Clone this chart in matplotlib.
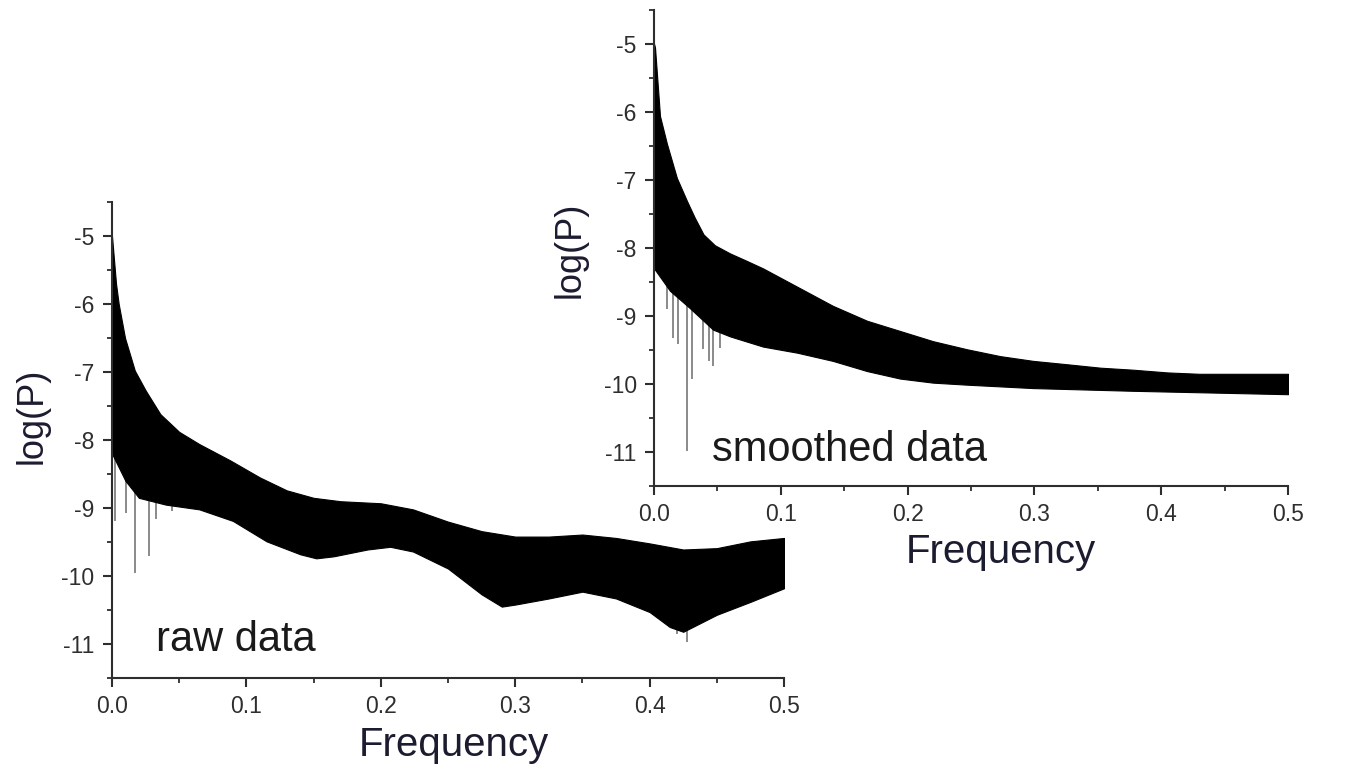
import matplotlib.pyplot as plt
from matplotlib.ticker import MultipleLocator
import numpy as np

plt.rcParams["font.family"] = ["Liberation Sans", "DejaVu Sans"]
plt.rcParams["axes.unicode_minus"] = False

# raw data: envelope of the dense spectrum (frequency, log(P))
raw_f_up = [0.0, 0.003, 0.005, 0.0097, 0.017, 0.025, 0.036, 0.05, 0.065, 0.088, 0.11, 0.13,
            0.15, 0.17, 0.19, 0.2, 0.224, 0.25, 0.275, 0.3, 0.325, 0.35, 0.375, 0.4, 0.425,
            0.45, 0.475, 0.5]
raw_up = [-5.0, -5.7, -6.0, -6.5, -6.98, -7.27, -7.62, -7.88, -8.06, -8.3, -8.55, -8.74,
          -8.85, -8.9, -8.92, -8.93, -9.02, -9.2, -9.34, -9.42, -9.42, -9.39, -9.44, -9.52, -9.61,
          -9.59, -9.49, -9.44]
raw_f_lo = [0.0, 0.01, 0.02, 0.04, 0.065, 0.09, 0.115, 0.14, 0.152, 0.165, 0.19, 0.207,
            0.224, 0.25, 0.275, 0.29, 0.3, 0.325, 0.35, 0.375, 0.4, 0.415, 0.425, 0.45, 0.475, 0.5]
raw_lo = [-8.2, -8.6, -8.85, -8.95, -9.02, -9.19, -9.49, -9.68, -9.74, -9.71, -9.61, -9.57,
          -9.64, -9.89, -10.27, -10.45, -10.42, -10.33, -10.23, -10.33, -10.53, -10.75, -10.82,
          -10.57, -10.38, -10.18]
raw_spike_f = [0.0022, 0.0104, 0.0171, 0.0275, 0.033, 0.0445, 0.42, 0.428]
raw_spike_lo = [-9.19, -9.08, -9.96, -9.71, -9.16, -9.05, -10.85, -10.97]
raw_spike_hi = [-7.0, -7.5, -7.5, -8.0, -8.0, -8.5, -10.3, -10.3]

# smoothed data
sm_f_up = [0.0, 0.0008, 0.0047, 0.0102, 0.018, 0.026, 0.032, 0.039, 0.048, 0.06, 0.072, 0.086,
           0.113, 0.141, 0.168, 0.194, 0.22, 0.247, 0.273, 0.299, 0.326, 0.352, 0.378, 0.405,
           0.43, 0.5]
sm_up = [-5.0, -5.06, -6.06, -6.47, -6.97, -7.31, -7.55, -7.8, -7.96, -8.08, -8.18, -8.3,
         -8.57, -8.85, -9.07, -9.22, -9.37, -9.49, -9.59, -9.66, -9.71, -9.76, -9.79, -9.83,
         -9.85, -9.85]
sm_f_lo = [0.0, 0.0126, 0.028, 0.0465, 0.06, 0.086, 0.113, 0.141, 0.168, 0.194, 0.22, 0.247,
           0.299, 0.378, 0.5]
sm_lo = [-8.3, -8.63, -8.88, -9.2, -9.3, -9.45, -9.54, -9.66, -9.81, -9.92, -9.98, -10.01,
         -10.06, -10.1, -10.15]
sm_spike_f = [0.004, 0.0104, 0.015, 0.019, 0.026, 0.03, 0.039, 0.0434, 0.0465, 0.052]
sm_spike_lo = [-8.34, -8.9, -9.32, -9.41, -10.99, -9.93, -9.49, -9.66, -9.74, -9.47]
sm_spike_hi = [-7.0, -7.5, -8.0, -8.0, -8.3, -8.5, -8.8, -8.8, -9.0, -9.0]

xticks = [0.0, 0.1, 0.2, 0.3, 0.4, 0.5]
yticks = [-5, -6, -7, -8, -9, -10, -11]

fig = plt.figure(figsize=(13.64, 7.69), dpi=100)
ax1 = fig.add_axes([0.0821, 0.1183, 0.4927, 0.619])
ax2 = fig.add_axes([0.4795, 0.368, 0.4648, 0.619])

label_col = '#1c1c30'
tick_col = '#2e2e2e'


def draw(ax, f_up, up, f_lo, lo, sf, slo, shi):
    ax.vlines(sf, slo, shi, color='#8a8a8a', lw=1.4, zorder=1)
    f_all = np.union1d(f_up, f_lo)
    ax.fill_between(f_all, np.interp(f_all, f_lo, lo), np.interp(f_all, f_up, up),
                    color='black', lw=0.8, zorder=2)
    ax.set_xlim(0, 0.5)
    ax.set_ylim(-11.5, -4.5)
    ax.set_facecolor('none')
    for s in ['top', 'right']:
        ax.spines[s].set_visible(False)
    for s in ['left', 'bottom']:
        ax.spines[s].set_linewidth(1.5)
        ax.spines[s].set_color(tick_col)
    ax.set_xticks(xticks)
    ax.set_xticklabels(['%.1f' % t for t in xticks])
    ax.set_yticks(yticks)
    ax.set_yticklabels([str(t) for t in yticks])
    ax.xaxis.set_minor_locator(MultipleLocator(0.05))
    ax.yaxis.set_minor_locator(MultipleLocator(0.5))
    ax.tick_params(which='major', direction='out', length=6.5, width=1.5, color=tick_col,
                   labelsize=16.5, labelcolor=tick_col, pad=6)
    ax.tick_params(which='minor', direction='out', length=3.5, width=1.3, color=tick_col)
    ax.set_xlabel('Frequency', fontsize=29, color=label_col, va='center')
    ax.set_ylabel('log(P)', fontsize=26, color=label_col, va='center', ha='center')


draw(ax1, raw_f_up, raw_up, raw_f_lo, raw_lo, raw_spike_f, raw_spike_lo, raw_spike_hi)
draw(ax2, sm_f_up, sm_up, sm_f_lo, sm_lo, sm_spike_f, sm_spike_lo, sm_spike_hi)

ax1.xaxis.set_label_coords(0.509, -0.141)
ax1.yaxis.set_label_coords(-0.119, 0.55)
ax2.xaxis.set_label_coords(0.547, -0.139)
ax2.yaxis.set_label_coords(-0.132, 0.496)

ax1.text(0.0327, -10.94, 'raw data', fontsize=30, color='#1a1a1a', ha='left', va='center')
ax2.text(0.0457, -10.97, 'smoothed data', fontsize=30, color='#1a1a1a', ha='left', va='center')

fig.savefig('out.png', dpi=100)
